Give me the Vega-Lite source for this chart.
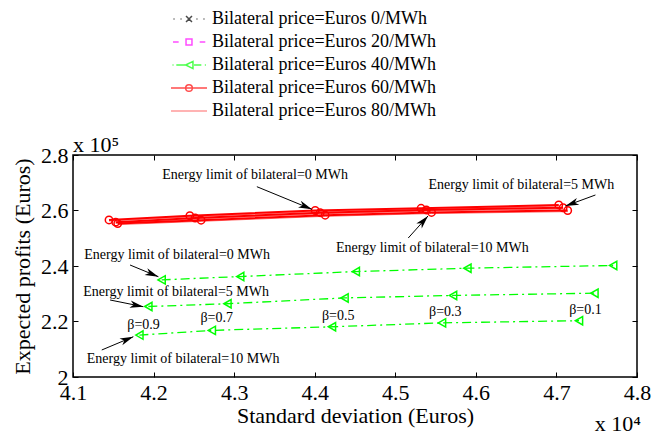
{
  "$schema": "https://vega.github.io/schema/vega-lite/v6.json",
  "width": 564,
  "height": 222,
  "autosize": "none",
  "padding": {"left": 73, "top": 155, "right": 15, "bottom": 59},
  "background": "white",
  "config": {
    "view": {"stroke": "black", "strokeWidth": 1.5},
    "font": "Liberation Serif",
    "axis": {
      "labelFont": "Liberation Serif", "titleFont": "Liberation Serif",
      "labelFontSize": 22, "titleFontSize": 22, "titleFontWeight": "normal",
      "labelColor": "black", "titleColor": "black", "tickColor": "black",
      "domain": false, "grid": false, "ticks": true, "tickSize": -5, "tickWidth": 1,
      "labelOverlap": false, "labelFlush": false
    }
  },
  "datasets": {
    "pts": [
      {"series": "Bilateral price=Euros 40/MWh", "price": 40, "limit": 0, "beta": 0.9, "sd": 4.21, "profit": 2.35},
      {"series": "Bilateral price=Euros 40/MWh", "price": 40, "limit": 0, "beta": 0.7, "sd": 4.3075, "profit": 2.362},
      {"series": "Bilateral price=Euros 40/MWh", "price": 40, "limit": 0, "beta": 0.5, "sd": 4.451, "profit": 2.38},
      {"series": "Bilateral price=Euros 40/MWh", "price": 40, "limit": 0, "beta": 0.3, "sd": 4.5895, "profit": 2.392},
      {"series": "Bilateral price=Euros 40/MWh", "price": 40, "limit": 0, "beta": 0.1, "sd": 4.7704, "profit": 2.402},
      {"series": "Bilateral price=Euros 40/MWh", "price": 40, "limit": 5, "beta": 0.9, "sd": 4.1935, "profit": 2.254},
      {"series": "Bilateral price=Euros 40/MWh", "price": 40, "limit": 5, "beta": 0.7, "sd": 4.2917, "profit": 2.264},
      {"series": "Bilateral price=Euros 40/MWh", "price": 40, "limit": 5, "beta": 0.5, "sd": 4.437, "profit": 2.285},
      {"series": "Bilateral price=Euros 40/MWh", "price": 40, "limit": 5, "beta": 0.3, "sd": 4.5717, "profit": 2.294},
      {"series": "Bilateral price=Euros 40/MWh", "price": 40, "limit": 5, "beta": 0.1, "sd": 4.7472, "profit": 2.302},
      {"series": "Bilateral price=Euros 40/MWh", "price": 40, "limit": 10, "beta": 0.9, "sd": 4.1824, "profit": 2.151},
      {"series": "Bilateral price=Euros 40/MWh", "price": 40, "limit": 10, "beta": 0.7, "sd": 4.2723, "profit": 2.168},
      {"series": "Bilateral price=Euros 40/MWh", "price": 40, "limit": 10, "beta": 0.5, "sd": 4.4214, "profit": 2.181},
      {"series": "Bilateral price=Euros 40/MWh", "price": 40, "limit": 10, "beta": 0.3, "sd": 4.558, "profit": 2.195},
      {"series": "Bilateral price=Euros 40/MWh", "price": 40, "limit": 10, "beta": 0.1, "sd": 4.728, "profit": 2.203},
      {"series": "Bilateral price=Euros 60/MWh", "price": 60, "limit": 0, "beta": 0.9, "sd": 4.1447, "profit": 2.566},
      {"series": "Bilateral price=Euros 60/MWh", "price": 60, "limit": 0, "beta": 0.7, "sd": 4.245, "profit": 2.581},
      {"series": "Bilateral price=Euros 60/MWh", "price": 60, "limit": 0, "beta": 0.5, "sd": 4.4006, "profit": 2.6},
      {"series": "Bilateral price=Euros 60/MWh", "price": 60, "limit": 0, "beta": 0.3, "sd": 4.532, "profit": 2.608},
      {"series": "Bilateral price=Euros 60/MWh", "price": 60, "limit": 0, "beta": 0.1, "sd": 4.7029, "profit": 2.62},
      {"series": "Bilateral price=Euros 60/MWh", "price": 60, "limit": 5, "beta": 0.9, "sd": 4.153, "profit": 2.558},
      {"series": "Bilateral price=Euros 60/MWh", "price": 60, "limit": 5, "beta": 0.7, "sd": 4.2516, "profit": 2.573},
      {"series": "Bilateral price=Euros 60/MWh", "price": 60, "limit": 5, "beta": 0.5, "sd": 4.4068, "profit": 2.592},
      {"series": "Bilateral price=Euros 60/MWh", "price": 60, "limit": 5, "beta": 0.3, "sd": 4.5385, "profit": 2.602},
      {"series": "Bilateral price=Euros 60/MWh", "price": 60, "limit": 5, "beta": 0.1, "sd": 4.7083, "profit": 2.61},
      {"series": "Bilateral price=Euros 60/MWh", "price": 60, "limit": 10, "beta": 0.9, "sd": 4.1555, "profit": 2.553},
      {"series": "Bilateral price=Euros 60/MWh", "price": 60, "limit": 10, "beta": 0.7, "sd": 4.259, "profit": 2.565},
      {"series": "Bilateral price=Euros 60/MWh", "price": 60, "limit": 10, "beta": 0.5, "sd": 4.413, "profit": 2.583},
      {"series": "Bilateral price=Euros 60/MWh", "price": 60, "limit": 10, "beta": 0.3, "sd": 4.545, "profit": 2.593},
      {"series": "Bilateral price=Euros 60/MWh", "price": 60, "limit": 10, "beta": 0.1, "sd": 4.714, "profit": 2.6},
      {"series": "Bilateral price=Euros 80/MWh", "price": 80, "limit": 0, "beta": 0.9, "sd": 4.1447, "profit": 2.562},
      {"series": "Bilateral price=Euros 80/MWh", "price": 80, "limit": 0, "beta": 0.7, "sd": 4.245, "profit": 2.577},
      {"series": "Bilateral price=Euros 80/MWh", "price": 80, "limit": 0, "beta": 0.5, "sd": 4.4006, "profit": 2.596},
      {"series": "Bilateral price=Euros 80/MWh", "price": 80, "limit": 0, "beta": 0.3, "sd": 4.532, "profit": 2.604},
      {"series": "Bilateral price=Euros 80/MWh", "price": 80, "limit": 0, "beta": 0.1, "sd": 4.7029, "profit": 2.616},
      {"series": "Bilateral price=Euros 80/MWh", "price": 80, "limit": 5, "beta": 0.9, "sd": 4.153, "profit": 2.554},
      {"series": "Bilateral price=Euros 80/MWh", "price": 80, "limit": 5, "beta": 0.7, "sd": 4.2516, "profit": 2.569},
      {"series": "Bilateral price=Euros 80/MWh", "price": 80, "limit": 5, "beta": 0.5, "sd": 4.4068, "profit": 2.588},
      {"series": "Bilateral price=Euros 80/MWh", "price": 80, "limit": 5, "beta": 0.3, "sd": 4.5385, "profit": 2.598},
      {"series": "Bilateral price=Euros 80/MWh", "price": 80, "limit": 5, "beta": 0.1, "sd": 4.7083, "profit": 2.606},
      {"series": "Bilateral price=Euros 80/MWh", "price": 80, "limit": 10, "beta": 0.9, "sd": 4.1555, "profit": 2.549},
      {"series": "Bilateral price=Euros 80/MWh", "price": 80, "limit": 10, "beta": 0.7, "sd": 4.259, "profit": 2.561},
      {"series": "Bilateral price=Euros 80/MWh", "price": 80, "limit": 10, "beta": 0.5, "sd": 4.413, "profit": 2.579},
      {"series": "Bilateral price=Euros 80/MWh", "price": 80, "limit": 10, "beta": 0.3, "sd": 4.545, "profit": 2.589},
      {"series": "Bilateral price=Euros 80/MWh", "price": 80, "limit": 10, "beta": 0.1, "sd": 4.714, "profit": 2.596}
    ],
    "notes": [
      {"label": "Energy limit of bilateral=0 MWh", "x": 4.3261, "y": 2.7279},
      {"label": "Energy limit of bilateral=5 MWh", "x": 4.6565, "y": 2.6919},
      {"label": "Energy limit of bilateral=10 MWh", "x": 4.546, "y": 2.4649},
      {"label": "Energy limit of bilateral=0 MWh", "x": 4.2292, "y": 2.4396},
      {"label": "Energy limit of bilateral=5 MWh", "x": 4.228, "y": 2.3063},
      {"label": "Energy limit of bilateral=10 MWh", "x": 4.2366, "y": 2.0649},
      {"label": "β=0.9", "x": 4.1876, "y": 2.1874},
      {"label": "β=0.7", "x": 4.2783, "y": 2.2126},
      {"label": "β=0.5", "x": 4.4292, "y": 2.2198},
      {"label": "β=0.3", "x": 4.5621, "y": 2.2342},
      {"label": "β=0.1", "x": 4.736, "y": 2.2414}
    ],
    "arrows": [
      {"x": 4.3282, "y": 2.6858, "x2": 4.3965, "y2": 2.6043, "angle": 112.3},
      {"x": 4.7484, "y": 2.6559, "x2": 4.7112, "y2": 2.6162, "angle": 249.9},
      {"x": 4.5161, "y": 2.5009, "x2": 4.5406, "y2": 2.5802, "angle": 41.8},
      {"x": 4.1708, "y": 2.4036, "x2": 4.206, "y2": 2.3614, "angle": 112.5},
      {"x": 4.146, "y": 2.2775, "x2": 4.1873, "y2": 2.2533, "angle": 101.4},
      {"x": 4.1357, "y": 2.0973, "x2": 4.1749, "y2": 2.1452, "angle": 67.2}
    ],
    "exp": [
      {"label": "x 10⁵", "x": 4.1, "y": 2.8, "axis": "y"},
      {"label": "x 10⁴", "x": 4.8, "y": 2.0, "axis": "x"}
    ]
  },
  "layer": [
    {
      "data": {"name": "pts"},
      "transform": [{"filter": "datum.price == 40"}],
      "mark": {"type": "line", "color": "#00ff00", "strokeDash": [9, 4, 2, 4], "strokeWidth": 1.3},
      "encoding": {
        "x": {"field": "sd", "type": "quantitative", "scale": {"domain": [4.1, 4.8], "nice": false, "zero": false},
          "axis": {"orient": "bottom", "values": [4.1, 4.2, 4.3, 4.4, 4.5, 4.6, 4.7, 4.8], "format": ".1f", "labelPadding": 10,
            "title": "Standard deviation (Euros)", "titleY": 45, "titleBaseline": "alphabetic"}},
        "y": {"field": "profit", "type": "quantitative", "scale": {"domain": [2, 2.8], "nice": false, "zero": false},
          "axis": {"orient": "left", "values": [2, 2.2, 2.4, 2.6, 2.8], "labelExpr": "datum.value == 2 ? '2' : format(datum.value, '.1f')", "labelPadding": 10,
            "title": "Expected profits (Euros)", "titleX": -44, "titleBaseline": "alphabetic"}},
        "detail": {"field": "limit"}
      }
    },
    {
      "data": {"name": "pts"},
      "transform": [{"filter": "datum.price == 80"}],
      "mark": {"type": "line", "color": "#ff6f6f", "strokeWidth": 1},
      "encoding": {
        "x": {"field": "sd", "type": "quantitative", "scale": {"domain": [4.1, 4.8], "nice": false, "zero": false}, "axis": null},
        "y": {"field": "profit", "type": "quantitative", "scale": {"domain": [2, 2.8], "nice": false, "zero": false}, "axis": null},
        "detail": {"field": "limit"}
      }
    },
    {
      "data": {"name": "pts"},
      "transform": [{"filter": "datum.price == 60"}],
      "mark": {"type": "line", "color": "#ff0000", "strokeWidth": 2},
      "encoding": {
        "x": {"field": "sd", "type": "quantitative", "scale": {"domain": [4.1, 4.8], "nice": false, "zero": false}, "axis": null},
        "y": {"field": "profit", "type": "quantitative", "scale": {"domain": [2, 2.8], "nice": false, "zero": false}, "axis": null},
        "detail": {"field": "limit"}
      }
    },
    {
      "data": {"name": "pts"},
      "transform": [{"filter": "datum.price == 40"}],
      "mark": {"type": "point", "shape": "triangle-left", "filled": false, "color": "#00ff00", "size": 70, "strokeWidth": 1.5, "opacity": 1},
      "encoding": {
        "x": {"field": "sd", "type": "quantitative", "scale": {"domain": [4.1, 4.8], "nice": false, "zero": false}, "axis": null},
        "y": {"field": "profit", "type": "quantitative", "scale": {"domain": [2, 2.8], "nice": false, "zero": false}, "axis": null}
      }
    },
    {
      "data": {"name": "pts"},
      "transform": [{"filter": "datum.price == 60"}],
      "mark": {"type": "point", "shape": "circle", "filled": false, "color": "#ff0000", "size": 55, "strokeWidth": 1.5, "opacity": 1},
      "encoding": {
        "x": {"field": "sd", "type": "quantitative", "scale": {"domain": [4.1, 4.8], "nice": false, "zero": false}, "axis": null},
        "y": {"field": "profit", "type": "quantitative", "scale": {"domain": [2, 2.8], "nice": false, "zero": false}, "axis": null}
      }
    },
    {
      "data": {"name": "arrows"},
      "mark": {"type": "rule", "color": "black", "strokeWidth": 1},
      "encoding": {
        "x": {"field": "x", "type": "quantitative", "scale": {"domain": [4.1, 4.8], "nice": false, "zero": false}, "axis": null},
        "y": {"field": "y", "type": "quantitative", "scale": {"domain": [2, 2.8], "nice": false, "zero": false}, "axis": null},
        "x2": {"field": "x2"},
        "y2": {"field": "y2"}
      }
    },
    {
      "data": {"name": "arrows"},
      "mark": {"type": "point", "shape": "M0,0L-0.6,2.2L0,1.6L0.6,2.2Z", "filled": true, "color": "black", "size": 150, "opacity": 1, "strokeWidth": 0},
      "encoding": {
        "x": {"field": "x2", "type": "quantitative", "scale": {"domain": [4.1, 4.8], "nice": false, "zero": false}, "axis": null},
        "y": {"field": "y2", "type": "quantitative", "scale": {"domain": [2, 2.8], "nice": false, "zero": false}, "axis": null},
        "angle": {"field": "angle", "type": "quantitative", "scale": null}
      }
    },
    {
      "data": {"name": "notes"},
      "mark": {"type": "text", "font": "Liberation Serif", "fontSize": 14, "color": "black", "align": "center", "baseline": "middle"},
      "encoding": {
        "x": {"field": "x", "type": "quantitative", "scale": {"domain": [4.1, 4.8], "nice": false, "zero": false}, "axis": null},
        "y": {"field": "y", "type": "quantitative", "scale": {"domain": [2, 2.8], "nice": false, "zero": false}, "axis": null},
        "text": {"field": "label"}
      }
    },
    {
      "data": {"name": "exp"},
      "transform": [{"filter": "datum.axis == 'y'"}],
      "mark": {"type": "text", "font": "Liberation Serif", "fontSize": 22, "color": "black", "align": "left", "baseline": "alphabetic", "dy": -3},
      "encoding": {
        "x": {"field": "x", "type": "quantitative", "scale": {"domain": [4.1, 4.8], "nice": false, "zero": false},
          "axis": {"orient": "top", "values": [4.1, 4.2, 4.3, 4.4, 4.5, 4.6, 4.7, 4.8], "labels": false, "title": null}},
        "y": {"field": "y", "type": "quantitative", "scale": {"domain": [2, 2.8], "nice": false, "zero": false},
          "axis": {"orient": "right", "values": [2, 2.2, 2.4, 2.6, 2.8], "labels": false, "title": null}},
        "text": {"field": "label"}
      }
    },
    {
      "data": {"name": "exp"},
      "transform": [{"filter": "datum.axis == 'x'"}],
      "mark": {"type": "text", "font": "Liberation Serif", "fontSize": 22, "color": "black", "align": "right", "baseline": "alphabetic", "dx": 4, "dy": 54},
      "encoding": {
        "x": {"field": "x", "type": "quantitative", "scale": {"domain": [4.1, 4.8], "nice": false, "zero": false}, "axis": null},
        "y": {"field": "y", "type": "quantitative", "scale": {"domain": [2, 2.8], "nice": false, "zero": false}, "axis": null},
        "text": {"field": "label"}
      }
    },
    {
      "data": {"name": "pts"},
      "transform": [{"filter": "false"}],
      "mark": {"type": "point", "filled": false, "strokeWidth": 1.5},
      "encoding": {
        "x": {"field": "sd", "type": "quantitative", "scale": {"domain": [4.1, 4.8], "nice": false, "zero": false}, "axis": null},
        "y": {"field": "profit", "type": "quantitative", "scale": {"domain": [2, 2.8], "nice": false, "zero": false}, "axis": null},
        "color": {"field": "series", "type": "nominal",
          "scale": {"domain": ["Bilateral price=Euros 0/MWh", "Bilateral price=Euros 20/MWh", "Bilateral price=Euros 40/MWh", "Bilateral price=Euros 60/MWh", "Bilateral price=Euros 80/MWh"],
            "range": ["#000000", "#ff00ff", "#00ff00", "#ff0000", "#ff6f6f"]},
          "legend": {"orient": "none", "legendX": 106, "legendY": -146, "title": null, "labelFont": "Liberation Serif", "labelFontSize": 18, "labelColor": "black",
            "labelLimit": 400, "symbolSize": 324, "symbolStrokeWidth": 1.5, "labelOffset": 13, "rowPadding": 4, "padding": 0, "symbolFillColor": "transparent"}},
        "shape": {"field": "series", "type": "nominal",
          "scale": {"domain": ["Bilateral price=Euros 0/MWh", "Bilateral price=Euros 20/MWh", "Bilateral price=Euros 40/MWh", "Bilateral price=Euros 60/MWh", "Bilateral price=Euros 80/MWh"],
            "range": [
              "M-1.72,0L-1.61,0M-0.94,0L-0.83,0M0.83,0L0.94,0M1.61,0L1.72,0M-0.33,-0.33L0.33,0.33M-0.33,0.33L0.33,-0.33",
              "M-1.78,0L-1.15,0M1.19,0L1.81,0M-0.33,-0.33L0.33,-0.33L0.33,0.33L-0.33,0.33Z",
              "M-1.83,0L-1.72,0M-1.41,0L-0.48,0M0.56,0L1.37,0M1.76,0L1.87,0M-0.37,0L0.44,-0.4L0.44,0.4Z",
              "M-2,0L2,0M0.37,0A0.37,0.37 0 1,1 -0.37,0A0.37,0.37 0 1,1 0.37,0",
              "M-2,0L2,0"
            ]},
          "legend": {"orient": "none", "legendX": 106, "legendY": -146, "title": null, "labelFont": "Liberation Serif", "labelFontSize": 18, "labelColor": "black",
            "labelLimit": 400, "symbolSize": 324, "symbolStrokeWidth": 1.5, "labelOffset": 13, "rowPadding": 4, "padding": 0, "symbolFillColor": "transparent"}}
      }
    }
  ],
  "resolve": {"axis": {"x": "independent", "y": "independent"}}
}
